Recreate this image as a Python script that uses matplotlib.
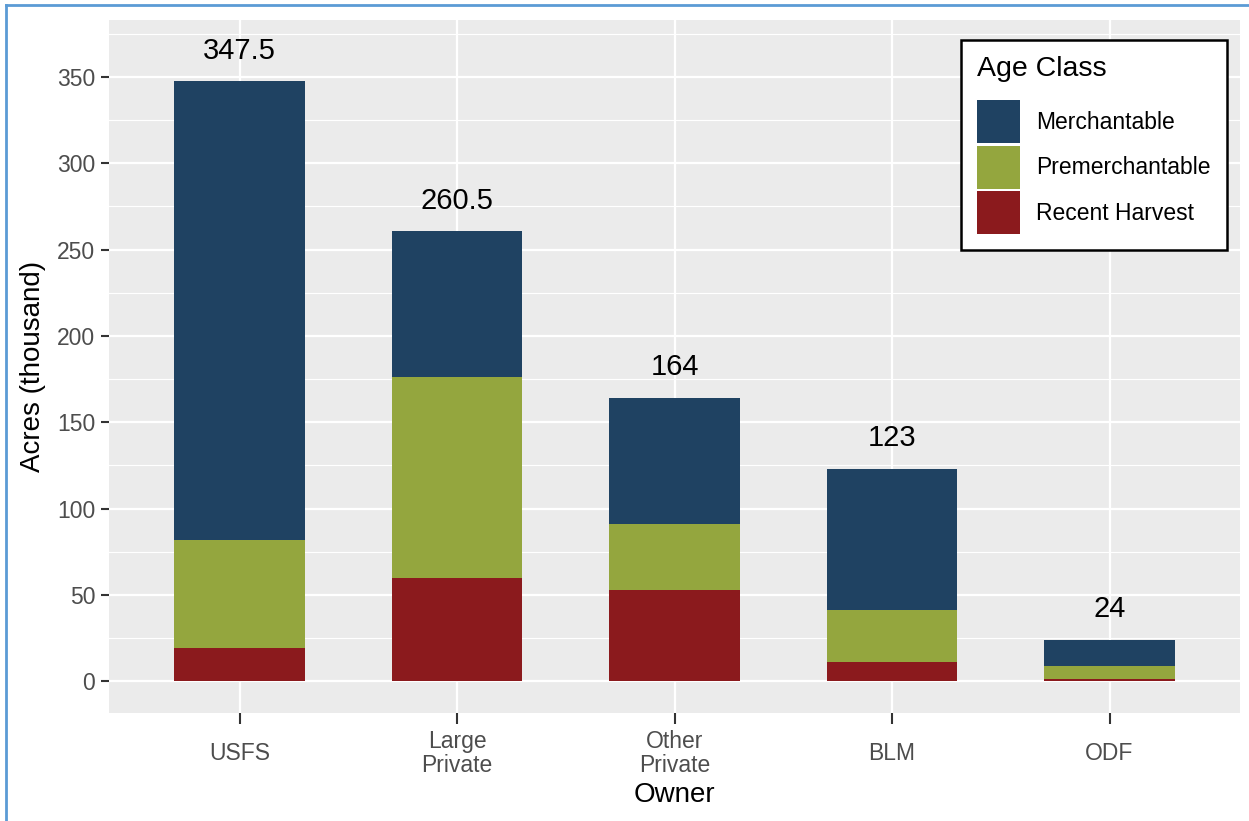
import matplotlib.pyplot as plt
from matplotlib.patches import Patch
from matplotlib.lines import Line2D
import numpy as np

plt.rcParams['font.family'] = ['Liberation Sans', 'DejaVu Sans']

# Data (thousand acres)
owners = ['USFS', 'Large\nPrivate', 'Other\nPrivate', 'BLM', 'ODF']
recent_harvest = [19, 60, 53, 11, 1]
premerchantable = [63, 116, 38, 30, 8]
merchantable = [265.5, 84.5, 73, 82, 15]
totals = ['347.5', '260.5', '164', '123', '24']

classes = ['Merchantable', 'Premerchantable', 'Recent Harvest']
colors = {'Merchantable': '#1F4262',
          'Premerchantable': '#94A63E',
          'Recent Harvest': '#8B1A1D'}

fig = plt.figure(figsize=(12.49, 8.21), dpi=100)
ax = fig.add_axes([0.0873, 0.1315, 0.9055, 0.8441])
ax.set_facecolor('#EBEBEB')

x = np.arange(1, len(owners) + 1)
w = 0.6
ax.bar(x, recent_harvest, w, color=colors['Recent Harvest'], zorder=3)
ax.bar(x, premerchantable, w, bottom=recent_harvest,
       color=colors['Premerchantable'], zorder=3)
bottom2 = np.array(recent_harvest) + np.array(premerchantable)
ax.bar(x, merchantable, w, bottom=bottom2,
       color=colors['Merchantable'], zorder=3)

tops = bottom2 + np.array(merchantable)
for xi, top, lab in zip(x, tops, totals):
    ax.annotate(lab, (xi, top), xytext=(0, 22), textcoords='offset points',
                ha='center', va='center', fontsize=21, color='black', zorder=4)

ax.set_xlim(0.4, 5.6)
ax.set_ylim(-18.5, 383)
ax.set_xticks(x)
ax.set_xticklabels(owners, fontsize=16.5, color='#4D4D4D', linespacing=1.05,
                   va='center')
ax.set_yticks(np.arange(0, 351, 50))
ax.set_yticks(np.arange(25, 376, 50), minor=True)
ax.tick_params(axis='y', labelsize=16.5, labelcolor='#4D4D4D', length=6,
               width=1.5, color='#333333', pad=4)
ax.tick_params(axis='x', length=8, width=1.5, color='#333333', pad=21)
ax.tick_params(axis='y', which='minor', length=0)

ax.grid(True, which='major', color='white', linewidth=1.6, zorder=0)
ax.grid(True, which='minor', axis='y', color='white', linewidth=0.8, zorder=0)
ax.set_axisbelow(True)
for s in ax.spines.values():
    s.set_visible(False)

ax.set_xlabel('Owner', fontsize=20, labelpad=4)
ax.set_ylabel('Acres (thousand)', fontsize=20, labelpad=8)

handles = [Patch(facecolor=colors[c], edgecolor='none') for c in classes]
leg = ax.legend(handles, classes, title='Age Class', loc='upper right',
                bbox_to_anchor=(0.9885, 0.971), fontsize=16.5,
                title_fontsize=20.5, alignment='left', frameon=True,
                framealpha=1, fancybox=False, edgecolor='black',
                handlelength=1.88, handleheight=2.5, labelspacing=0.12,
                handletextpad=0.72, borderpad=0.7, borderaxespad=0)
leg.get_frame().set_linewidth(1.8)
leg.set_zorder(5)
leg._legend_box.sep = 13

# light blue frame around the picture
fig.add_artist(Line2D([0.005, 0.005], [0, 0.994], color='#5B9BD5', lw=2,
                      transform=fig.transFigure))
fig.add_artist(Line2D([0.005, 1], [0.994, 0.994], color='#5B9BD5', lw=2,
                      transform=fig.transFigure))

fig.savefig('out.png', dpi=100)
